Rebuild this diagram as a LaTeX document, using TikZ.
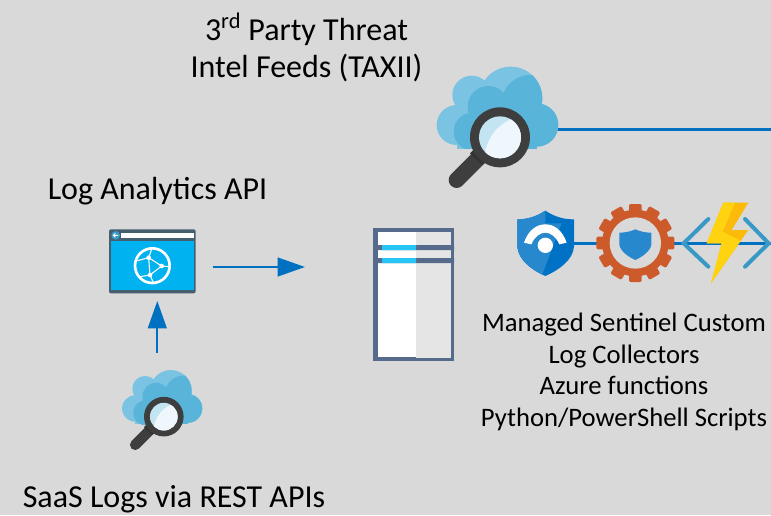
\documentclass[tikz,border=0pt]{standalone}
\usepackage{fontspec}
\setmainfont{Carlito}
\usetikzlibrary{arrows.meta}
\definecolor{bgc}{HTML}{D9D9D9}
\definecolor{linkc}{HTML}{0070C0}
\definecolor{cloudl}{HTML}{7AC3E3}
\definecolor{cloudd}{HTML}{59B4D9}
\definecolor{ringc}{HTML}{3E3E3E}
\definecolor{lensa}{HTML}{C3E5F1}
\definecolor{lensb}{HTML}{EFF7FC}
\definecolor{tablec}{HTML}{566A8B}
\definecolor{stripec}{HTML}{27C5F5}
\definecolor{winc}{HTML}{465F6F}
\definecolor{winb}{HTML}{00B2F0}
\definecolor{gearc}{HTML}{CD5A2B}
\definecolor{shieldd}{HTML}{0072C6}
\definecolor{shieldl}{HTML}{2888CE}
\definecolor{chevc}{HTML}{3999C6}
\definecolor{boltd}{HTML}{FCBA0B}
\definecolor{boltl}{HTML}{FFD30F}
\tikzset{
  label text/.style={align=center,inner sep=0pt,font=\fontsize{24pt}{27.75pt}\selectfont,text=black},
  small text/.style={align=center,inner sep=0pt,font=\fontsize{20pt}{23.8pt}\selectfont,text=black},
  link/.style={draw=linkc,line width=1.7pt},
  flow/.style={link,-{Triangle[length=20.5pt,width=14pt]}}
}
\newcommand{\cloudicon}[3]{%
  \begin{scope}[shift={(#1,#2)},x=#3*0.75pt,y=-#3*0.75pt]
    \pgfmathsetlengthmacro{\hw}{#3*0.75pt*48}
    \fill[cloudl] (110,195) circle[radius=60] (155,105) circle[radius=58]
      (272,115) circle[radius=95] (350,195) circle[radius=65];
    \fill[cloudl] (110,267) rectangle (350,150);
    \begin{scope}
      \clip (272,115) circle[radius=95];
      \fill[cloudd] (330,130) circle[radius=85];
    \end{scope}
    \fill[cloudd] (350,195) circle[radius=65];
    \fill[cloudd] (205,140) circle[radius=62];
    \begin{scope}
      \clip (40,120) rectangle (400,267);
      \fill[cloudd] (158,215) circle[radius=57];
    \end{scope}
    \fill[cloudd] (150,160) rectangle (350,267);
    \draw[ringc,line width=\hw,line cap=round] (110,360) -- (178,292);
    \fill[black!80] (150,280) -- (172,258) -- (205,300) -- (187,315) -- cycle;
    \fill[ringc] (240,232) circle[radius=90];
    \fill[lensa] (240,232) circle[radius=63];
    \begin{scope}
      \clip (240,232) circle[radius=63];
      \fill[lensb] (197,266) .. controls (212,220) and (240,190) .. (278,176) -- (320,176) -- (320,310) -- (197,310) -- cycle;
    \end{scope}
  \end{scope}}
\begin{document}
\begin{tikzpicture}[x=0.75pt,y=-0.75pt]
\useasboundingbox (0,0) rectangle (771,515);
\fill[bgc] (0,0) rectangle (771,515);
% anchors
\coordinate (threatcloud) at (556,129.5);
\coordinate (feedend) at (771,129.5);
\coordinate (shield) at (574,243.5);
\coordinate (funcend) at (771,243.5);
\coordinate (apiout) at (212.5,267);
\coordinate (tablein) at (305,267);
\coordinate (saasout) at (157.3,352.5);
\coordinate (apiin) at (157.3,301);
% connectors
\draw[link] (threatcloud) -- (feedend);
\draw[link] (shield) -- (funcend);
\draw[flow] (apiout) -- (tablein);
\draw[flow] (saasout) -- (apiin);
% clouds
\cloudicon{420}{60}{0.3333}
\cloudicon{111}{365.6}{0.22}
% browser window
\begin{scope}[shift={(90,220)},x=0.25pt,y=-0.25pt]
  \fill[winc,rounded corners=1.5pt] (57,28) rectangle (317,220);
  \fill[winb] (63,63) rectangle (312,210);
  \fill[white] (93,38) rectangle (312,54);
  \fill[chevc] (77,46) circle[radius=13];
  \draw[white,line width=0.7pt] (70,46) -- (85,46) (76,40) -- (70,46) -- (76,52);
  \draw[white,line width=2pt] (187,137) circle[radius=52];
  \fill[white] (176,113) circle[radius=7] (215,138) circle[radius=7] (180,165) circle[radius=7];
  \draw[white,line width=0.8pt] (176,113) -- (215,138) -- (180,165) -- cycle;
  \draw[white,line width=0.8pt] (176,113) -- (185,88) (176,113) -- (142,122)
     (180,165) -- (150,170) (180,165) -- (190,188) (215,138) -- (238,140);
\end{scope}
% table
\begin{scope}[shift={(360,220)},x=0.25pt,y=-0.25pt]
  \fill[tablec] (39,24) rectangle (282,423);
  \fill[white] (53,37) rectangle (168,410);
  \fill[black!10] (168,37) rectangle (273,413);
  \fill[tablec] (39,75) rectangle (282,90) (39,114) rectangle (282,129);
  \fill[stripec] (66,75) rectangle (168,90) (66,114) rectangle (168,129);
\end{scope}
% shield, gear, function
\begin{scope}[shift={(500,190)},x=0.25pt,y=-0.25pt]
  \def\shieldshape{(136,62) .. controls (105,82) and (80,88) .. (52,88) -- (52,170) .. controls (55,210) and (95,240) .. (136,258) .. controls (177,240) and (219,210) .. (222,170) -- (222,88) .. controls (192,88) and (167,82) .. (136,62) -- cycle}
  \fill[shieldd] \shieldshape;
  \begin{scope}
    \clip \shieldshape;
    \fill[shieldl] (40,50) -- (136,50) -- (136,100) -- (185,100) -- (125,258) -- (40,258) -- cycle;
  \end{scope}
  \fill[white] (72,158) .. controls (85,120) and (110,103) .. (136,103) .. controls (162,103) and (187,120) .. (200,158) -- (178,163) .. controls (168,140) and (152,128) .. (136,128) .. controls (120,128) and (104,140) .. (94,163) -- cycle;
  \fill[white] (136,166) circle[radius=23];
  % gear
  \begin{scope}[shift={(406,159)}]
    \fill[gearc] (0,0) circle[radius=100];
    \foreach \a in {0,30,...,330}{
      \fill[gearc,rotate=\a,rounded corners=1pt] (80,-19) rectangle (117,19);
    }
    \fill[bgc] (0,0) circle[radius=77];
    \fill[shieldl] (0,-41) .. controls (-15,-34) and (-32,-31) .. (-48,-31) -- (-48,5) .. controls (-45,25) and (-20,42) .. (0,51) .. controls (20,42) and (45,25) .. (48,5) -- (48,-31) .. controls (32,-31) and (15,-34) .. (0,-41) -- cycle;
  \end{scope}
  % chevrons
  \draw[chevc,line width=3pt,line cap=round,line join=miter] (625,87) -- (551,160) -- (625,230);
  \draw[chevc,line width=3pt,line cap=round,line join=miter] (735,87) -- (806,160) -- (735,230);
  % bolt
  \fill[boltd] (670,38) -- (745,38) -- (695,120) -- (745,120) -- (633,280) -- (665,160) -- (620,160) -- cycle;
  \fill[boltl] (670,38) -- (705,38) -- (668,125) -- (722,152) -- (633,280) -- (665,160) -- (620,160) -- cycle;
\end{scope}
% text
\node[label text] (feedlabel) at (306.5,47) {3\textsuperscript{rd} Party Threat\\Intel Feeds (TAXII)};
\node[label text] (apilabel) at (157.5,191) {Log Analytics API};
\node[label text] (saaslabel) at (174,499) {SaaS Logs via REST APIs};
\node[small text] (funclabel) at (624,372) {Managed Sentinel Custom\\Log Collectors\\Azure functions\\Python/PowerShell Scripts};
\end{tikzpicture}
\end{document}
